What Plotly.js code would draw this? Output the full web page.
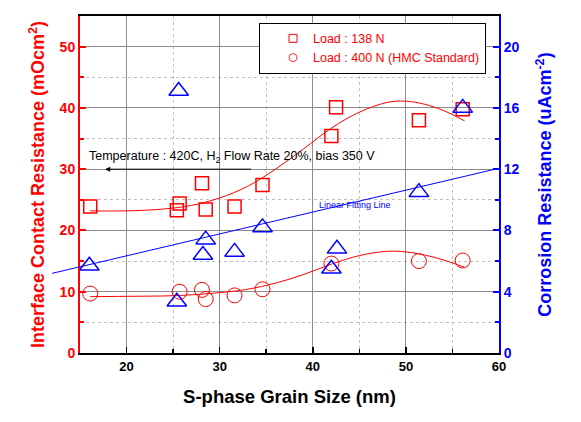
<!DOCTYPE html>
<html>
<head>
<meta charset="utf-8">
<script src="https://cdn.plot.ly/plotly-3.0.1.min.js"></script>
<style>html,body{margin:0;padding:0;background:#fff;}#chart{width:581px;height:422px;}</style>
</head>
<body>
<div id="chart"></div>
<script>
// Grain size (nm) for each specimen
var sqX = [16.1, 25.4, 25.7, 28.1, 28.5, 31.6, 34.6, 42.0, 42.5, 51.4, 56.1];
var sqY = [23.9, 23.3, 24.4, 27.7, 23.4, 23.9, 27.4, 35.4, 40.1, 38.0, 39.8];
var ciX = [16.1, 25.7, 28.1, 28.5, 31.6, 34.6, 42.0, 51.4, 56.1];
var ciY = [9.7, 10.0, 10.3, 8.8, 9.4, 10.4, 14.6, 15.0, 15.1];
var triX = [16.0, 25.4, 25.6, 28.2, 28.5, 31.6, 34.6, 42.0, 42.6, 51.4, 56.1];
var triY = [5.7, 3.35, 17.1, 6.4, 7.4, 6.6, 8.2, 5.5, 6.8, 10.5, 16.0];
// fitted curves
var sqFitX = [16.1, 20, 24, 27, 30, 33, 36, 39, 42, 45, 48, 50, 52, 54, 56.3];
var sqFitY = [23.2, 23.2, 23.5, 24.1, 25.3, 27.2, 30.0, 33.3, 36.7, 39.3, 40.9, 41.1, 40.6, 39.6, 37.9];
var ciFitX = [16.1, 20, 25, 28, 30, 33, 36, 39, 42, 45, 48, 50, 52, 54, 56.3];
var ciFitY = [9.2, 9.25, 9.35, 9.6, 9.85, 10.4, 11.4, 12.8, 14.5, 15.9, 16.6, 16.5, 16.0, 15.2, 14.0];
var linFitX = [12.0, 60];
var linFitY = [5.2, 12.06];
var legendNames = ['Load : 138 N', 'Load : 400 N (HMC Standard)'];

var F = 'Liberation Sans, Arial, sans-serif';
var RED = '#ff0000', BLUE = '#0000ff';

var traces = [
  {x: sqX, y: sqY, mode: 'markers', name: legendNames[0], showlegend: false,
   marker: {symbol: 'square-open', size: 13, color: RED, line: {width: 1.5, color: RED}}},
  {x: ciX, y: ciY, mode: 'markers', name: legendNames[1], showlegend: false,
   marker: {symbol: 'circle-open', size: 15, color: RED, line: {width: 1, color: RED}}},
  {x: sqFitX, y: sqFitY, mode: 'lines', showlegend: false,
   line: {color: RED, width: 1, shape: 'spline'}},
  {x: ciFitX, y: ciFitY, mode: 'lines', showlegend: false,
   line: {color: RED, width: 1, shape: 'spline'}},
  {x: triX, y: triY, yaxis: 'y2', mode: 'markers', showlegend: false,
   marker: {symbol: 'triangle-up-open', size: 17, color: BLUE, line: {width: 1.5, color: BLUE}}},
  {x: linFitX, y: linFitY, xaxis: 'x3', yaxis: 'y3', mode: 'lines', showlegend: false,
   line: {color: BLUE, width: 1}},
  // legend-only entries (smaller symbols as in the reference key)
  {x: [null], y: [null], mode: 'markers', name: legendNames[0], showlegend: true,
   marker: {symbol: 'square-open', size: 8, color: RED, line: {width: 1, color: RED}}},
  {x: [null], y: [null], mode: 'markers', name: legendNames[1], showlegend: true,
   marker: {symbol: 'circle-open', size: 8, color: RED, line: {width: 0.8, color: RED}}}
];

var plotL = 50, plotR = 499;
var pxPerUnit = (plotR - 80) / 45;
var layout = {
  width: 581, height: 422,
  margin: {l: plotL, r: 581 - plotR, t: 16, b: 69, pad: 0},
  paper_bgcolor: '#ffffff', plot_bgcolor: 'rgba(0,0,0,0)',
  font: {family: F},
  showlegend: true,
  legend: {x: (259 - plotL) / (plotR - plotL), y: 0.98, xanchor: 'left', yanchor: 'top',
    bordercolor: '#000', borderwidth: 1, bgcolor: '#fff', indentation: 13,
    font: {family: F, size: 12.5, color: RED}},
  xaxis: {domain: [30 / (plotR - plotL), 1], range: [15, 60], anchor: 'y',
    tick0: 0, dtick: 10, ticks: 'inside', ticklen: 6, tickwidth: 1.5, tickcolor: '#000',
    linecolor: '#000', linewidth: 2, mirror: true, zeroline: false,
    showgrid: true, gridcolor: '#8c8c8c', gridwidth: 1,
    minor: {dtick: 5, ticks: 'inside', ticklen: 4, tickcolor: '#000', showgrid: true, gridcolor: '#c0c0c0', griddash: 'dot'},
    tickfont: {family: F, size: 13, color: '#000', weight: 'bold'},
    title: {text: 'S-phase Grain Size (nm)', font: {family: F, size: 18.5, color: '#000', weight: 'bold'}, standoff: 17}},
  yaxis: {range: [0, 55], anchor: 'x', tick0: 0, dtick: 10, ticks: 'inside', ticklen: 6, tickwidth: 2, tickcolor: RED,
    linecolor: RED, linewidth: 2, zeroline: false,
    showgrid: true, gridcolor: '#8c8c8c', gridwidth: 1,
    minor: {dtick: 5, ticks: 'inside', ticklen: 4, tickcolor: RED, showgrid: true, gridcolor: '#c0c0c0', griddash: 'dot'},
    tickfont: {family: F, size: 14, color: RED, weight: 'bold'},
    title: {text: 'Interface Contact Resistance (mOcm<sup>2</sup>)', font: {family: F, size: 18, color: RED, weight: 'bold'}, standoff: 10}},
  yaxis2: {range: [0, 22], overlaying: 'y', side: 'right', anchor: 'x', tick0: 0, dtick: 4,
    ticks: 'inside', ticklen: 6, tickwidth: 2, tickcolor: BLUE,
    linecolor: BLUE, linewidth: 2, zeroline: false, showgrid: false,
    minor: {dtick: 2, ticks: 'inside', ticklen: 4, tickcolor: BLUE, showgrid: false},
    tickfont: {family: F, size: 14, color: BLUE, weight: 'bold'},
    title: {text: 'Corrosion Resistance (uAcm<sup>-2</sup>)', font: {family: F, size: 18, color: BLUE, weight: 'bold'}, standoff: 20}},
  xaxis3: {domain: [0, 1], range: [15 - 30 / pxPerUnit, 60], anchor: 'y3', visible: false, fixedrange: true},
  yaxis3: {domain: [0, 1], range: [0, 22], anchor: 'x3', visible: false, fixedrange: true},
  annotations: [
    {xref: 'x', yref: 'y', x: 17.7, y: 30, axref: 'x', ayref: 'y', ax: 33.55, ay: 30,
     text: '', showarrow: true, arrowhead: 2, arrowsize: 1, arrowwidth: 1, arrowcolor: '#000'},
    {xref: 'x', yref: 'y', x: 15.75, y: 32.0, xanchor: 'left', yanchor: 'middle', showarrow: false,
     text: 'Temperature : 420C, H<sub>2</sub> Flow Rate 20%, bias 350 V', font: {family: F, size: 12.5, color: '#000'}},
    {xref: 'x', yref: 'y', x: 40.45, y: 24.2, xanchor: 'left', yanchor: 'middle', showarrow: false,
     text: 'Linear Fitting Line', font: {family: F, size: 9, color: BLUE}}
  ]
};

Plotly.newPlot('chart', traces, layout, {displayModeBar: false, staticPlot: true});
</script>
</body>
</html>
